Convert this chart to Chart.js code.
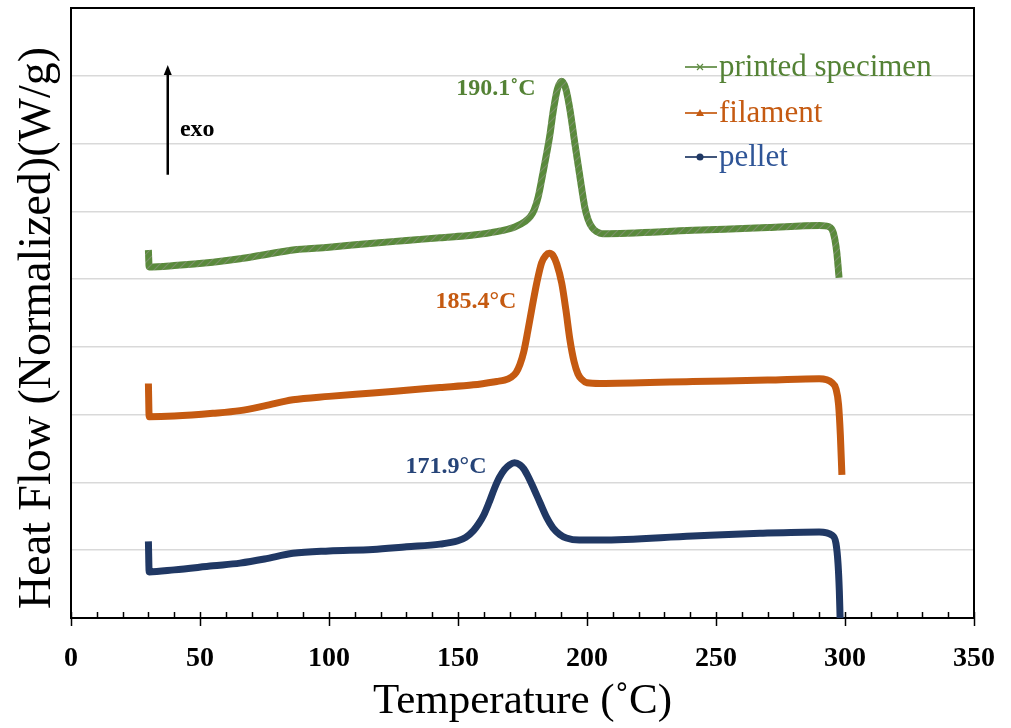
<!DOCTYPE html>
<html>
<head>
<meta charset="utf-8">
<script src="https://cdn.jsdelivr.net/npm/chart.js@4.4.1/dist/chart.umd.min.js"></script>
<style>
  html, body { margin: 0; padding: 0; background: #ffffff; }
  #wrap { width: 1011px; height: 728px; position: relative; }
</style>
</head>
<body>
<div id="wrap"><canvas id="c" width="1011" height="728"></canvas></div>
<script>
// ---- data ----
const seriesLabels = ['printed specimen', 'filament', 'pellet'];

const specimenTemp = [30, 30.3, 40, 55, 65.5, 75, 86, 100, 117, 130, 143, 156, 165, 172, 176, 178, 179.5, 181, 182.5, 184, 185.5, 187, 188.5, 190.1, 191.7, 193.3, 195.3, 197.3, 199.2, 200.5, 202, 203.7, 206, 241, 270, 290, 294, 295.5, 296.8, 297.7];
const specimenFlow = [5.43, 5.18, 5.20, 5.25, 5.30, 5.36, 5.43, 5.47, 5.53, 5.57, 5.61, 5.65, 5.70, 5.77, 5.85, 5.92, 6.02, 6.20, 6.48, 6.78, 7.10, 7.50, 7.80, 7.92, 7.82, 7.52, 7.00, 6.50, 6.05, 5.87, 5.76, 5.70, 5.67, 5.72, 5.76, 5.79, 5.77, 5.68, 5.40, 5.02];

const filamentTemp = [30, 30.3, 40, 55, 65.5, 75, 86, 100, 117, 130, 143, 156, 165, 168, 170.5, 172.5, 174, 175.5, 177, 178.7, 180.5, 182.4, 184, 185.4, 186.8, 188.3, 190.2, 191.8, 193.4, 195, 196.5, 198, 200, 205, 241, 270, 290, 295, 296.5, 297.5, 298.2, 298.8];
const filamentFlow = [3.46, 2.97, 2.98, 3.02, 3.06, 3.13, 3.22, 3.27, 3.32, 3.36, 3.40, 3.44, 3.49, 3.51, 3.55, 3.62, 3.74, 3.93, 4.22, 4.58, 4.94, 5.24, 5.35, 5.38, 5.35, 5.22, 4.94, 4.55, 4.10, 3.78, 3.60, 3.52, 3.47, 3.46, 3.49, 3.51, 3.53, 3.47, 3.38, 3.15, 2.70, 2.11];

const pelletTemp = [30, 30.3, 40, 55, 65.5, 75, 86, 100, 117, 130, 143, 150, 153, 156, 158, 160, 162, 164, 166, 168, 170, 171.9, 174, 175.5, 177, 179, 181.8, 184.4, 186.8, 189.5, 192, 197, 205, 241, 267, 290, 295, 296.5, 297.3, 297.8, 298.1];
const pelletFlow = [1.13, 0.68, 0.71, 0.77, 0.81, 0.87, 0.955, 0.99, 1.01, 1.05, 1.09, 1.14, 1.19, 1.29, 1.39, 1.52, 1.70, 1.90, 2.07, 2.19, 2.26, 2.29, 2.26, 2.20, 2.10, 1.94, 1.70, 1.48, 1.33, 1.23, 1.18, 1.15, 1.15, 1.21, 1.25, 1.27, 1.22, 1.10, 0.80, 0.40, 0.0];

const peakTemps = [190.1, 185.4, 171.9];
const peakFlows = [7.92, 5.38, 2.29];
const peakLabels = ['190.1˚C', '185.4°C', '171.9°C'];

const xTickValues = [0, 50, 100, 150, 200, 250, 300, 350];

const xTitle = 'Temperature (˚C)';
const yTitle = 'Heat Flow (Normalized)(W/g)';

// ---- styles ----
const lineColors = ['#5E8B42', '#C55A11', '#203864'];
const textColors = ['#548235', '#C55A11', '#2F5597'];
const peakTextColors = ['#548235', '#C55A11', '#264478'];
const markerStyles = ['cross', 'triangle', 'circle'];
const peakOffsets = [[-26, 8], [-33, 48], [-28, 4]];

function toPoints(xs, ys) { return xs.map((x, i) => ({ x: x, y: ys[i] })); }

const seriesData = [
  toPoints(specimenTemp, specimenFlow),
  toPoints(filamentTemp, filamentFlow),
  toPoints(pelletTemp, pelletFlow)
];

// textured stroke for the printed-specimen curve
function makeTexture() {
  const pc = document.createElement('canvas');
  pc.width = 8; pc.height = 8;
  const p = pc.getContext('2d');
  p.fillStyle = '#5A8A3C';
  p.fillRect(0, 0, 8, 8);
  p.strokeStyle = 'rgba(150,150,140,0.55)';
  p.lineWidth = 1.2;
  p.beginPath();
  p.moveTo(0, 8); p.lineTo(8, 0);
  p.moveTo(-4, 4); p.lineTo(4, -4);
  p.moveTo(4, 12); p.lineTo(12, 4);
  p.stroke();
  return p.createPattern(pc, 'repeat');
}
const strokeStyles = [makeTexture(), lineColors[1], lineColors[2]];

const SERIF = "'Liberation Serif', 'Times New Roman', serif";

const decorPlugin = {
  id: 'decor',
  afterDraw(chart) {
    const ctx = chart.ctx;
    ctx.save();
    ctx.translate(38, 328);
    ctx.rotate(-Math.PI / 2);
    ctx.font = '46px ' + SERIF;
    ctx.fillStyle = '#000';
    ctx.textAlign = 'center';
    ctx.textBaseline = 'middle';
    ctx.fillText(yTitle, 0, 0);
    ctx.restore();
  },
  afterDatasetsDraw(chart) {
    const ctx = chart.ctx;
    const xs = chart.scales.x, ys = chart.scales.y;
    const a = chart.chartArea;
    ctx.save();
    // frame (top and right)
    ctx.strokeStyle = '#000';
    ctx.lineWidth = 2;
    ctx.beginPath();
    ctx.moveTo(a.left, a.top);
    ctx.lineTo(a.right, a.top);
    ctx.lineTo(a.right, a.bottom);
    ctx.stroke();
    // x ticks: minor every 10 (inside), major every 50 (crossing)
    ctx.lineWidth = 1.5;
    for (let t = 0; t <= 350; t += 10) {
      const px = Math.round(xs.getPixelForValue(t)) + 0.5;
      const major = t % 50 === 0;
      ctx.beginPath();
      ctx.moveTo(px, a.bottom - 6);
      ctx.lineTo(px, a.bottom + (major ? 8 : 0));
      ctx.stroke();
    }
    // peak labels
    ctx.font = 'bold 24px ' + SERIF;
    ctx.textAlign = 'right';
    ctx.textBaseline = 'middle';
    peakTemps.forEach((t, i) => {
      const px = xs.getPixelForValue(t) + peakOffsets[i][0];
      const py = ys.getPixelForValue(peakFlows[i]) + peakOffsets[i][1];
      ctx.fillStyle = peakTextColors[i];
      ctx.fillText(peakLabels[i], px, py);
    });
    // exo arrow
    const ax = xs.getPixelForValue(37.5);
    const ay0 = ys.getPixelForValue(6.54);
    const ay1 = ys.getPixelForValue(8.16);
    ctx.strokeStyle = '#000';
    ctx.fillStyle = '#000';
    ctx.lineWidth = 2.5;
    ctx.beginPath();
    ctx.moveTo(ax, ay0);
    ctx.lineTo(ax, ay1 + 8);
    ctx.stroke();
    ctx.beginPath();
    ctx.moveTo(ax, ay1);
    ctx.lineTo(ax - 4, ay1 + 10);
    ctx.lineTo(ax + 4, ay1 + 10);
    ctx.closePath();
    ctx.fill();
    ctx.font = 'bold 24px ' + SERIF;
    ctx.textAlign = 'left';
    ctx.textBaseline = 'middle';
    ctx.fillText('exo', xs.getPixelForValue(42.2), ys.getPixelForValue(7.2));
    // legend (top-right, inside plot)
    const legX = a.right - 289;
    const legY = [a.top + 59, a.top + 105, a.top + 149];
    seriesLabels.forEach((lab, i) => {
      const y = legY[i];
      ctx.strokeStyle = lineColors[i];
      ctx.globalAlpha = 0.85;
      ctx.lineWidth = 2;
      ctx.beginPath();
      ctx.moveTo(legX, y);
      ctx.lineTo(legX + 32, y);
      ctx.stroke();
      ctx.globalAlpha = 1;
      const mx = legX + 15;
      ctx.fillStyle = lineColors[i];
      ctx.strokeStyle = lineColors[i];
      ctx.lineWidth = 1.2;
      if (markerStyles[i] === 'cross') {
        ctx.beginPath();
        ctx.moveTo(mx - 3, y - 3); ctx.lineTo(mx + 3, y + 3);
        ctx.moveTo(mx + 3, y - 3); ctx.lineTo(mx - 3, y + 3);
        ctx.stroke();
      } else if (markerStyles[i] === 'triangle') {
        ctx.beginPath();
        ctx.moveTo(mx, y - 4); ctx.lineTo(mx + 4, y + 3); ctx.lineTo(mx - 4, y + 3);
        ctx.closePath(); ctx.fill();
      } else {
        ctx.beginPath();
        ctx.arc(mx, y, 3.5, 0, Math.PI * 2);
        ctx.fill();
      }
      ctx.font = '31px ' + SERIF;
      ctx.fillStyle = textColors[i];
      ctx.textAlign = 'left';
      ctx.textBaseline = 'middle';
      ctx.fillText(lab, legX + 34, y + 1);
    });
    ctx.restore();
  }
};

new Chart(document.getElementById('c'), {
  type: 'scatter',
  data: {
    datasets: seriesData.map((pts, i) => ({
      label: seriesLabels[i],
      data: pts,
      showLine: true,
      borderColor: strokeStyles[i],
      backgroundColor: lineColors[i],
      borderWidth: 7,
      pointRadius: 0,
      pointHoverRadius: 0,
      cubicInterpolationMode: 'monotone',
      borderCapStyle: 'butt',
      borderJoinStyle: 'round'
    }))
  },
  options: {
    responsive: false,
    animation: false,
    events: [],
    layout: { padding: { left: 0, right: 37, top: 8, bottom: 0 } },
    plugins: {
      legend: { display: false },
      tooltip: { enabled: false }
    },
    scales: {
      x: {
        type: 'linear',
        min: 0,
        max: 350,
        afterFit: (s) => { s.height = 110; s.paddingLeft = 0; s.paddingRight = 0; },
        afterBuildTicks: (s) => { s.ticks = xTickValues.map(v => ({ value: v })); },
        grid: { display: false, drawTicks: false },
        border: { display: true, color: '#000', width: 2 },
        ticks: {
          padding: 24,
          color: '#000',
          font: { family: SERIF, size: 28, weight: 'bold' },
          maxRotation: 0
        },
        title: {
          display: true,
          text: xTitle,
          color: '#000',
          font: { family: SERIF, size: 43 },
          padding: { top: 0, bottom: 0 }
        }
      },
      y: {
        type: 'linear',
        min: 0,
        max: 9,
        afterFit: (s) => { s.width = 71; },
        ticks: { display: false, stepSize: 1 },
        grid: { color: '#d9d9d9', lineWidth: 1.5, drawTicks: false },
        border: { display: true, color: '#000', width: 2 },
        title: { display: false }
      }
    }
  },
  plugins: [decorPlugin]
});
</script>
</body>
</html>
